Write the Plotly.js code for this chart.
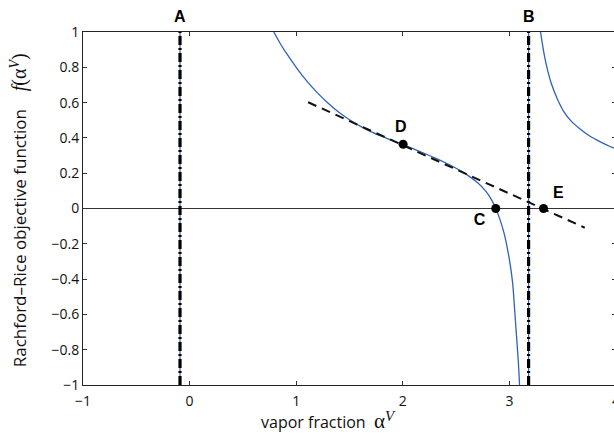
<!DOCTYPE html>
<html>
<head>
<meta charset="utf-8">
<script src="https://cdn.plot.ly/plotly-3.0.1.min.js"></script>
<style>
html,body{margin:0;padding:0;overflow:hidden;background:#fff;}
#chart{width:640px;height:438px;}
</style>
</head>
<body>
<div id="chart"></div>
<script>
// Rachford-Rice curve, branch between the poles A and B
const branch1X = [0.79, 0.85, 0.9, 1.0, 1.1, 1.2, 1.3, 1.4, 1.5, 1.6, 1.7, 1.8, 1.9, 2.0, 2.1, 2.2, 2.3, 2.4, 2.5, 2.6, 2.7, 2.78, 2.83, 2.872, 2.91, 2.95, 3.0, 3.03, 3.05, 3.07, 3.085, 3.095];
const branch1Y = [1.0, 0.935, 0.887, 0.80, 0.722, 0.655, 0.596, 0.545, 0.503, 0.467, 0.436, 0.410, 0.386, 0.362, 0.338, 0.313, 0.287, 0.259, 0.228, 0.192, 0.147, 0.097, 0.052, 0.0, -0.06, -0.14, -0.29, -0.42, -0.58, -0.75, -0.88, -1.0];
// branch right of pole B
const branch2X = [3.292, 3.31, 3.332, 3.36, 3.395, 3.45, 3.504, 3.58, 3.66, 3.75, 3.848, 3.95, 4.05];
const branch2Y = [1.0, 0.93, 0.855, 0.78, 0.705, 0.62, 0.555, 0.495, 0.452, 0.412, 0.379, 0.350, 0.325];
// pole positions
const poleNames = ["A", "B"];
const poleX = [-0.09, 3.18];
// tangent line at D
const tangentX = [1.112, 3.707];
const tangentY = [0.602, -0.109];
// marked points
const pointNames = ["D", "C", "E"];
const pointX = [2.003, 2.872, 3.32];
const pointY = [0.364, 0.0, 0.0];
const labelX = [1.98, 2.72, 3.46];
const labelY = [0.455, -0.07, 0.08];
// ticks
const xTickVals = [-1, 0, 1, 2, 3, 4];
const xTickText = ["\u22121", "0", "1", "2", "3", "4"];
const yTickVals = [-1, -0.8, -0.6, -0.4, -0.2, 0, 0.2, 0.4, 0.6, 0.8, 1];
const yTickText = ["\u22121", "\u22120.8", "\u22120.6", "\u22120.4", "\u22120.2", "0", "0.2", "0.4", "0.6", "0.8", "1"];

const blue = "#2f62b5";
const traces = [];
traces.push({x: [-1, 4], y: [0, 0], mode: "lines", line: {color: "#333", width: 1}, hoverinfo: "skip"});
poleX.forEach(px => {
  traces.push({x: [px, px], y: [-1, 1], mode: "lines", line: {color: blue, width: 1.2}, hoverinfo: "skip"});
});
traces.push({x: branch1X, y: branch1Y, mode: "lines", line: {color: blue, width: 1.3, shape: "spline", smoothing: 0.8}});
traces.push({x: branch2X, y: branch2Y, mode: "lines", line: {color: blue, width: 1.3, shape: "spline", smoothing: 0.8}});
poleX.forEach(px => {
  traces.push({x: [px, px], y: [-1, 1], mode: "lines", line: {color: "#000", width: 3.2, dash: "9px,3px,2px,3px"}, hoverinfo: "skip"});
});
traces.push({x: tangentX, y: tangentY, mode: "lines", line: {color: "#111", width: 2, dash: "9px,6px"}});
traces.push({x: pointX, y: pointY, mode: "markers", marker: {color: "#000", size: 9}});
traces.push({x: labelX, y: labelY, mode: "text", text: pointNames, cliponaxis: false,
  textfont: {family: "Liberation Sans, Arial, sans-serif", size: 16, color: "#000", weight: "bold"}});

const annotations = poleNames.map((n, i) => ({
  x: poleX[i], y: 1.0425, xref: "x", yref: "paper", text: "<b>" + n + "</b>", showarrow: false,
  xanchor: "center", yanchor: "middle",
  font: {family: "Liberation Sans, Arial, sans-serif", size: 16, color: "#000"}
}));
const serif = "font-family:'Liberation Serif','DejaVu Serif',serif";
annotations.push({
  xref: "paper", yref: "paper", x: 0.46, y: -0.1, yanchor: "middle", xanchor: "center", showarrow: false,
  text: "vapor fraction  <span style=\"" + serif + ";font-size:21px\">α</span><sup><span style=\"" + serif + ";font-style:italic;font-size:15px\">V</span></sup>",
  font: {family: "Open Sans, DejaVu Sans, sans-serif", size: 16, color: "#111"}
});
annotations.push({
  xref: "paper", yref: "paper", x: -0.12, y: 0.495, xanchor: "center", yanchor: "middle", textangle: -90, showarrow: false,
  text: "Rachford\u2013Rice objective function    <span style=\"" + serif + ";font-style:italic;font-size:20px\">f</span><span style=\"" + serif + ";font-size:20px\">(α</span><sup><span style=\"" + serif + ";font-style:italic;font-size:14px\">V</span></sup><span style=\"" + serif + ";font-size:20px\">)</span>",
  font: {family: "Open Sans, DejaVu Sans, sans-serif", size: 17, color: "#111"}
});

const axisCommon = {
  showgrid: false, zeroline: false, showline: true, linecolor: "#222", linewidth: 1, mirror: "ticks",
  ticks: "inside", ticklen: 4, tickcolor: "#333", tickmode: "array", ticklabeloverflow: "allow",
  tickfont: {family: "Open Sans, DejaVu Sans, sans-serif", size: 14, color: "#111"}
};
const layout = {
  width: 640, height: 438,
  margin: {l: 83, r: 24, t: 32, b: 53},
  paper_bgcolor: "#fff", plot_bgcolor: "#fff",
  showlegend: false,
  xaxis: Object.assign({}, axisCommon, {range: [-1, 4], tickvals: xTickVals, ticktext: xTickText, ticklabelstandoff: 3}),
  yaxis: Object.assign({}, axisCommon, {range: [-1, 1], tickvals: yTickVals, ticktext: yTickText}),
  annotations: annotations
};
Plotly.newPlot("chart", traces, layout, {staticPlot: true});
</script>
</body>
</html>
